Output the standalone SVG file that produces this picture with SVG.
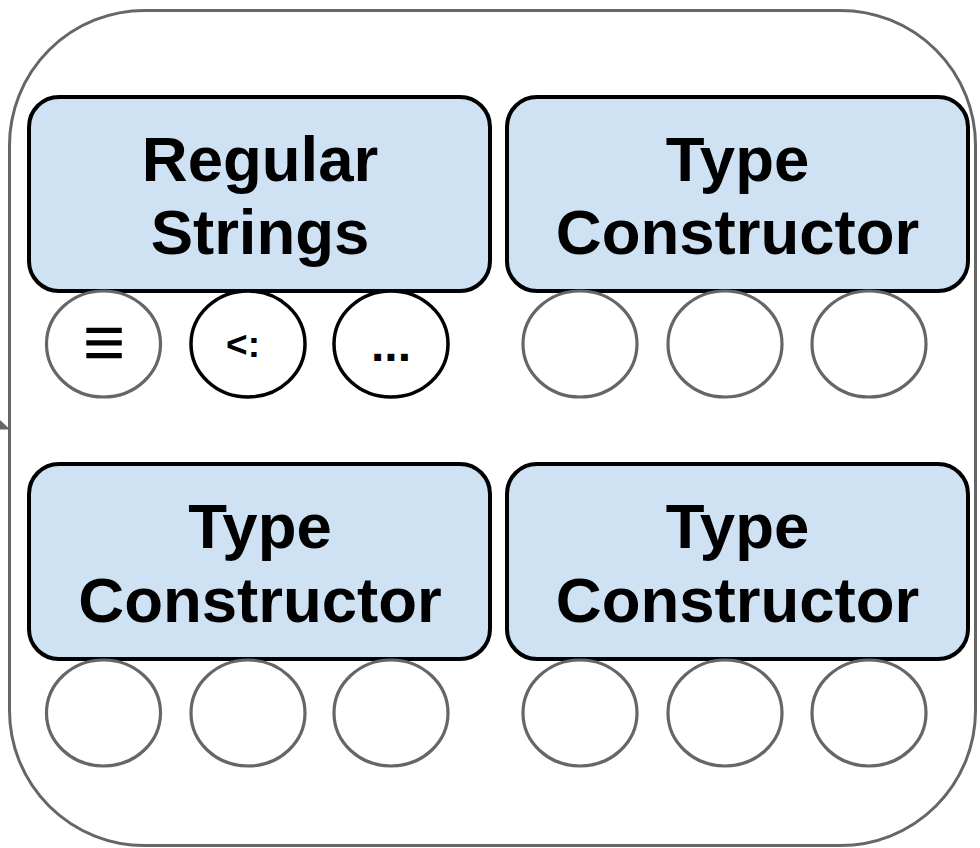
<svg xmlns="http://www.w3.org/2000/svg" width="980" height="848" viewBox="0 0 980 848">
  <style>
    .frame { fill: #ffffff; stroke: #666666; stroke-width: 3; }
    .box { fill: #cfe2f3; stroke: #000000; stroke-width: 4; }
    .slot { fill: #ffffff; stroke: #666666; stroke-width: 3.2; }
    .slot-dark { fill: #ffffff; stroke: #000000; stroke-width: 3.5; }
    .title { font-family: "Liberation Sans", Arial, sans-serif; font-weight: bold; font-size: 63.5px; fill: #000000; text-anchor: middle; }
    .sym { font-family: "Liberation Sans", Arial, sans-serif; font-weight: bold; fill: #000000; text-anchor: middle; }
  </style>

  <!-- outer container -->
  <rect id="container" class="frame" x="9.5" y="10.5" width="966" height="835" rx="135" ry="135"/>

  <!-- connectors -->
  <g id="connectors">
    <polygon points="0,420 8.5,428 8.5,429.5 0,429.5" fill="#666666"/>
  </g>

  <!-- top-left: Regular Strings -->
  <g id="regular-strings">
    <rect class="box" x="29" y="97" width="461" height="194" rx="30" ry="30"/>
    <text class="title" x="260" y="181">Regular</text>
    <text class="title" x="260" y="254">Strings</text>
  </g>
  <g id="rs-equiv">
    <ellipse class="slot" cx="103.5" cy="344" rx="57" ry="53"/>
    <text class="sym" x="104" y="367" font-size="73">≡</text>
  </g>
  <g id="rs-subtype">
    <ellipse class="slot-dark" cx="248" cy="344" rx="57" ry="53"/>
    <text class="sym" x="243" y="357" font-size="37">&lt;:</text>
  </g>
  <g id="rs-more">
    <ellipse class="slot-dark" cx="391" cy="344" rx="57" ry="53"/>
    <text class="sym" x="391" y="361" font-size="48">...</text>
  </g>

  <!-- top-right: Type Constructor -->
  <g id="type-constructor-1">
    <rect class="box" x="507" y="97" width="461" height="194" rx="30" ry="30"/>
    <text class="title" x="737.5" y="181">Type</text>
    <text class="title" x="737.5" y="254">Constructor</text>
  </g>
  <g id="tc1-slots">
    <ellipse class="slot" cx="580" cy="344" rx="57" ry="53"/>
    <ellipse class="slot" cx="725" cy="344" rx="57" ry="53"/>
    <ellipse class="slot" cx="869" cy="344" rx="57" ry="53"/>
  </g>

  <!-- bottom-left: Type Constructor -->
  <g id="type-constructor-2">
    <rect class="box" x="29" y="464" width="461" height="195" rx="30" ry="30"/>
    <text class="title" x="260" y="548">Type</text>
    <text class="title" x="260" y="622">Constructor</text>
  </g>
  <g id="tc2-slots">
    <ellipse class="slot" cx="103.5" cy="713" rx="57" ry="53"/>
    <ellipse class="slot" cx="248" cy="713" rx="57" ry="53"/>
    <ellipse class="slot" cx="391" cy="713" rx="57" ry="53"/>
  </g>

  <!-- bottom-right: Type Constructor -->
  <g id="type-constructor-3">
    <rect class="box" x="507" y="464" width="461" height="195" rx="30" ry="30"/>
    <text class="title" x="737.5" y="548">Type</text>
    <text class="title" x="737.5" y="622">Constructor</text>
  </g>
  <g id="tc3-slots">
    <ellipse class="slot" cx="580" cy="713" rx="57" ry="53"/>
    <ellipse class="slot" cx="725" cy="713" rx="57" ry="53"/>
    <ellipse class="slot" cx="869" cy="713" rx="57" ry="53"/>
  </g>
</svg>
